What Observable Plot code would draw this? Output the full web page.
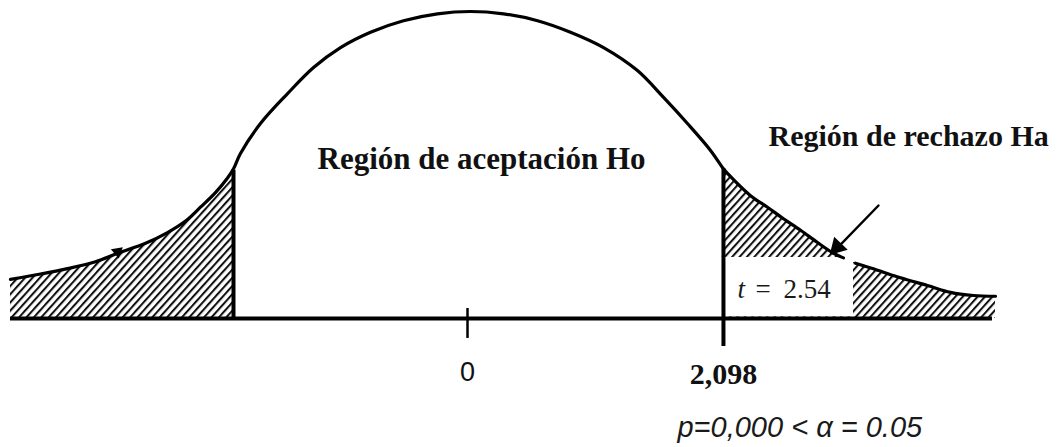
<!DOCTYPE html>
<html>
<head>
<meta charset="utf-8">
<script src="https://cdn.jsdelivr.net/npm/d3@7"></script>
<script src="https://cdn.jsdelivr.net/npm/@observablehq/plot@0.6"></script>
<style>
  html, body { margin: 0; padding: 0; background: #fff; }
  #chart svg { display: block; }
</style>
</head>
<body>
<div id="chart"></div>
<script>
// t values (horizontal axis) and curve heights
const tValues = [-3.746, -3.5, -3.279, -3.049, -2.869, -2.639, -2.459, -2.311, -2.189, -2.066, -1.967, -1.918, -1.861, -1.697, -1.475, -1.262, -1.041, -0.795, -0.525, -0.246, 0.025, 0.295, 0.574, 0.844, 1.115, 1.393, 1.607, 1.803, 1.992, 2.098, 2.131, 2.320, 2.459, 2.590, 2.730, 2.869, 3.000, 3.082, 3.180, 3.361, 3.549, 3.770, 3.959, 4.148, 4.328];
const density = [0.051, 0.058, 0.065, 0.074, 0.085, 0.098, 0.112, 0.127, 0.145, 0.164, 0.183, 0.195, 0.215, 0.254, 0.293, 0.327, 0.353, 0.373, 0.388, 0.397, 0.400, 0.397, 0.388, 0.373, 0.353, 0.323, 0.288, 0.254, 0.219, 0.195, 0.189, 0.160, 0.145, 0.130, 0.115, 0.099, 0.085, 0.079, 0.072, 0.063, 0.053, 0.043, 0.034, 0.030, 0.029];

const criticalLeft = -1.918;   // where the left boundary is drawn
const criticalRight = 2.098;
const tObserved = 2.54;
const centerTick = [0];

const labelAcceptance = "Región de aceptación Ho";
const labelRejection = "Región de rechazo Ha";
const labelZero = "0";
const labelCritical = "2,098";
const labelP = "p=0,000 < α = 0.05";

const curve = tValues.map((t, i) => ({t, d: density[i]}));
const gapStart = 3.082, gapEnd = 3.180;

const plot = Plot.plot({
  width: 1062,
  height: 447,
  margin: 0,
  x: {domain: [-467 / 122, 595 / 122], axis: null},
  y: {domain: [-129 / 767.5, 318 / 767.5], axis: null},
  style: {background: "white", overflow: "visible"},
  marks: [
    // hatched tails
    Plot.areaY(curve.filter(p => p.t <= criticalLeft), {x: "t", y: "d", fill: "url(#hatch)", curve: "catmull-rom"}),
    Plot.areaY(curve.filter(p => p.t >= criticalRight), {x: "t", y: "d", fill: "url(#hatch)", curve: "catmull-rom"}),
    // white box holding the observed t
    Plot.rect([{x1: 2.115, x2: 3.164, y1: 0.002, y2: 0.0795}], {x1: "x1", x2: "x2", y1: "y1", y2: "y2", fill: "white"}),
    // the curve (with a small gap next to the box)
    Plot.line(curve.filter(p => p.t <= gapStart), {x: "t", y: "d", stroke: "#000", strokeWidth: 3.2, curve: "catmull-rom"}),
    Plot.line(curve.filter(p => p.t >= gapEnd), {x: "t", y: "d", stroke: "#000", strokeWidth: 3.2, curve: "catmull-rom"}),
    // baseline and boundaries
    Plot.ruleY([0], {x1: -3.746, x2: 4.303, stroke: "#000", strokeWidth: 4}),
    Plot.ruleX([criticalLeft], {y1: 0, y2: 0.193, stroke: "#000", strokeWidth: 4}),
    Plot.ruleX([criticalRight], {y1: -0.0365, y2: 0.195, stroke: "#000", strokeWidth: 4}),
    Plot.ruleX(centerTick, {y1: -0.026, y2: 0.013, stroke: "#000", strokeWidth: 2.5}),
    // arrow pointing to the rejection region
    Plot.arrow([{x1: 3.369, y1: 0.1472, x2: 3.02, y2: 0.090}], {x1: "x1", y1: "y1", x2: "x2", y2: "y2", stroke: "#000", strokeWidth: 2.4, headLength: 0}),
    Plot.dot([{t: 3.03, d: 0.093}], {x: "t", y: "d", r: 7, fill: "#000", stroke: "none", symbol: "triangle", rotate: 224}),
    Plot.dot([{t: -2.869, d: 0.087}], {x: "t", y: "d", r: 4.5, fill: "#000", stroke: "none", symbol: "triangle", rotate: 290}),
    // texts
    Plot.text([labelAcceptance], {x: -1.2295, y: 0.2083, text: d => d, textAnchor: "start", fontFamily: "Liberation Serif", fontWeight: "bold", fontSize: 31, fill: "#111"}),
    Plot.text([labelRejection], {x: 2.467, y: 0.2379, text: d => d, textAnchor: "start", fontFamily: "Liberation Serif", fontWeight: "bold", fontSize: 30, fill: "#111"}),
    Plot.text([labelZero], {x: 0, y: -0.0700, text: d => d, fontFamily: "Liberation Sans", fontSize: 27, fill: "#111"}),
    Plot.text([labelCritical], {x: criticalRight, y: -0.0722, text: d => d, fontFamily: "Liberation Serif", fontWeight: "bold", fontSize: 30, fill: "#111"}),
    Plot.text([labelP], {x: 1.721, y: -0.1429, text: d => d, textAnchor: "start", fontFamily: "Liberation Sans", fontStyle: "italic", fontSize: 29, fill: "#1a1a1a"}),
    Plot.text(["t"], {x: 2.213, y: 0.0386, text: d => d, textAnchor: "start", fontFamily: "Liberation Serif", fontStyle: "italic", fontSize: 27, fill: "#1a1a1a"}),
    Plot.text(["="], {x: 2.361, y: 0.0386, text: d => d, textAnchor: "start", fontFamily: "Liberation Serif", fontSize: 27, fill: "#1a1a1a"}),
    Plot.text([String(tObserved)], {x: 2.590, y: 0.0386, text: d => d, textAnchor: "start", fontFamily: "Liberation Serif", fontSize: 27, fill: "#1a1a1a"})
  ]
});

const ns = "http://www.w3.org/2000/svg";
const defs = document.createElementNS(ns, "defs");
defs.innerHTML = '<pattern id="hatch" patternUnits="userSpaceOnUse" width="5.5" height="5.5" patternTransform="rotate(42)"><rect width="5.5" height="5.5" fill="white"/><line x1="1" y1="-1" x2="1" y2="7" stroke="#111" stroke-width="2.1"/></pattern>';
plot.insertBefore(defs, plot.firstChild);
document.getElementById("chart").appendChild(plot);
</script>
</body>
</html>
